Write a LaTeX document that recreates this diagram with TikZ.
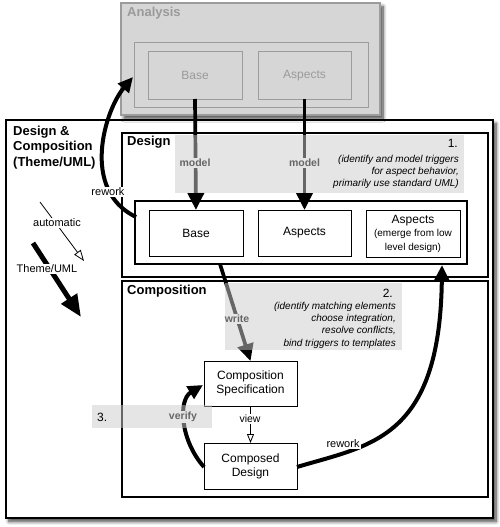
\documentclass[tikz,border=0pt]{standalone}
\usepackage{fontspec}
\setmainfont{Liberation Sans}
\usetikzlibrary{arrows.meta,shadows.blur}
\definecolor{agray}{HTML}{D6D6D6}
\definecolor{aline}{HTML}{9C9C9C}
\definecolor{atext}{HTML}{9A9A9A}
\newcommand{\smallfnt}{\fontsize{10}{11.5}\selectfont}
\tikzset{
  fbig/.style={font=\fontsize{12}{14}\selectfont},
  fhead/.style={font=\bfseries\fontsize{13}{15.5}\selectfont},
  flab/.style={font=\bfseries\fontsize{10.5}{12}\selectfont},
  fsmall/.style={font=\fontsize{11}{13}\selectfont},
  fnote/.style={font=\itshape\fontsize{10}{12.3}\selectfont},
  mybox/.style 2 args={draw, line width=1pt, fill=white, inner sep=0pt, outer sep=0pt,
    minimum width=#1, minimum height=#2, align=center, fbig},
  abox/.style 2 args={draw=aline, line width=1pt, inner sep=0pt, outer sep=0pt,
    minimum width=#1, minimum height=#2, align=center, fbig, text=atext},
  framebox/.style 2 args={draw, line width=1.2pt, inner sep=0pt, outer sep=0pt,
    minimum width=#1, minimum height=#2},
  mshadow/.style={blur shadow={shadow xshift=3pt, shadow yshift=-3.5pt,
    shadow blur steps=8, shadow blur radius=3.5pt, shadow opacity=75,
    shadow blur extra rounding=0pt}},
  bigarrow/.style={line width=3.7pt, -{Triangle[length=17pt,width=16pt]}},
  curvearrow/.style={line width=4pt, -{Triangle[length=15pt,width=14pt]}},
  thinarrow/.style={line width=0.8pt, -{Triangle[open,length=9pt,width=7pt]}},
  greyveil/.style={fill=black!20, fill opacity=0.5, draw=none, inner sep=0pt, outer sep=0pt,
    minimum width=#1},
  wlab/.style={fill=white, inner sep=1pt},
}
\begin{document}
\begin{tikzpicture}[x=1pt,y=-1pt]
\useasboundingbox (0,0) rectangle (500,527);

% outer frame
\node[draw, line width=1.4pt, fill=white, inner sep=0pt, minimum width=487pt,
  minimum height=398pt, mshadow] (outer) at (249.5,319) {};

% analysis
\node[draw=aline, line width=1.6pt, fill=agray, inner sep=0pt, minimum width=259pt,
  minimum height=112pt, mshadow] (aouter) at (250.5,59) {};
\node[abox={234pt}{64pt}] (ainner) at (251,75) {};
\node[abox={94pt}{47pt}] (abase) at (195,75.5) {Base};
\node[abox={93pt}{47pt}] (aasp) at (304.5,75.5) {Aspects};
\node[anchor=base west, fhead, text=atext, inner sep=0pt] (atitle) at (127,17) {Analysis};

% design and composition frames
\node[framebox={366pt}{144pt}] (design) at (305,205) {};
\node[framebox={366pt}{216pt}] (comp) at (305,389) {};
\node[framebox={332pt}{63pt}] (row) at (301,232.5) {};
\node[mybox={94pt}{46pt}] (base) at (196,233) {Base};
\node[mybox={93pt}{46pt}] (asp) at (304.5,233) {Aspects};
\node[mybox={94pt}{47pt}] (emerge) at (413,233.5)
  {Aspects\\[-1pt]\smallfnt (emerge from low\\\smallfnt level design)};
\node[mybox={93pt}{45pt}] (spec) at (250.5,383.5) {Composition\\Specification};
\node[mybox={93pt}{46pt}] (composed) at (250.5,466) {Composed\\Design};

\node[anchor=north west, fhead, align=left, inner sep=0pt] (dctitle) at (13,125.6)
  {Design \&\\Composition\\(Theme/UML)};
\node[anchor=base west, fhead, inner sep=0pt] (dtitle) at (127,145) {Design};
\node[anchor=base west, fhead, inner sep=0pt] (ctitle) at (127,294) {Composition};

% coordinates for connector ends
\coordinate (wstart) at (220,264);
\coordinate (rwstart) at (136,217);
\coordinate (rwend) at (133,77);
\coordinate (vstart) at (204,467);
\coordinate (vend) at (203,385);
\coordinate (r2start) at (297,467);
\coordinate (r2end) at (442,265);

% arrows
\draw[bigarrow] (abase.south) -- (base.north);
\draw[bigarrow] (aasp.south) -- (asp.north);
\draw[bigarrow] (wstart) -- (spec.north);
\draw[curvearrow] (rwstart) .. controls (80,190) and (105,110) .. (rwend);
\draw[curvearrow] (vstart) .. controls (180,440) and (178,400) .. (vend);
\draw[curvearrow] (r2start) .. controls (370,445) and (440,440) .. (r2end);
\draw[thinarrow] (spec.south) -- (composed.north);

% legend
\coordinate (la1) at (40,202);
\coordinate (la2) at (84,261);
\coordinate (lb1) at (33,243);
\coordinate (lb2) at (81,317);
\draw[line width=0.8pt, -{Triangle[open,length=11pt,width=8pt]}] (la1) -- (la2);
\draw[line width=5pt, -{Triangle[length=22pt,width=18pt]}] (lb1) -- (lb2);

% labels on arrows (under the grey overlays)
\node[wlab, flab] (m1) at (195,163) {model};
\node[wlab, flab] (m2) at (304.5,163) {model};
\node[wlab, flab] (wr) at (237,319) {write};
\node[wlab, flab] (ve) at (183,417) {verify};

% grey overlays
\node[greyveil=289pt, minimum height=58.5pt, anchor=north west] (n1) at (175,134.6) {};
\node[greyveil=177pt, minimum height=67.5pt, anchor=north west] (n2) at (225,282.6) {};
\node[greyveil=120pt, minimum height=23pt, anchor=north west] (n3) at (92,405) {};

% overlay texts
\node[anchor=base east, fbig, inner sep=0pt] (t1) at (458,147) {1.};
\node[anchor=north east, fnote, align=right, inner sep=0pt] (t1b) at (459,154.7)
  {(identify and model triggers\\for aspect behavior,\\primarily use standard UML)};
\node[anchor=base east, fbig, inner sep=0pt] (t2) at (393,297) {2.};
\node[anchor=north east, fnote, align=right, inner sep=0pt] (t2b) at (396,301.7)
  {(identify matching elements\\choose integration,\\resolve conflicts,\\bind triggers to templates};
\node[anchor=base west, fbig, inner sep=0pt] (t3) at (97,421) {3.};

% other labels
\node[wlab, fsmall] (rw1) at (108,192) {rework};
\node[wlab, fsmall] (rw2) at (343,444) {rework};
\node[wlab, font=\fontsize{10.5}{12}\selectfont] (vw) at (250,419) {view};
\node[wlab, fsmall] (lga) at (57,223) {automatic};
\node[wlab, fsmall] (lgb) at (47,269) {Theme/UML};
\end{tikzpicture}
\end{document}
